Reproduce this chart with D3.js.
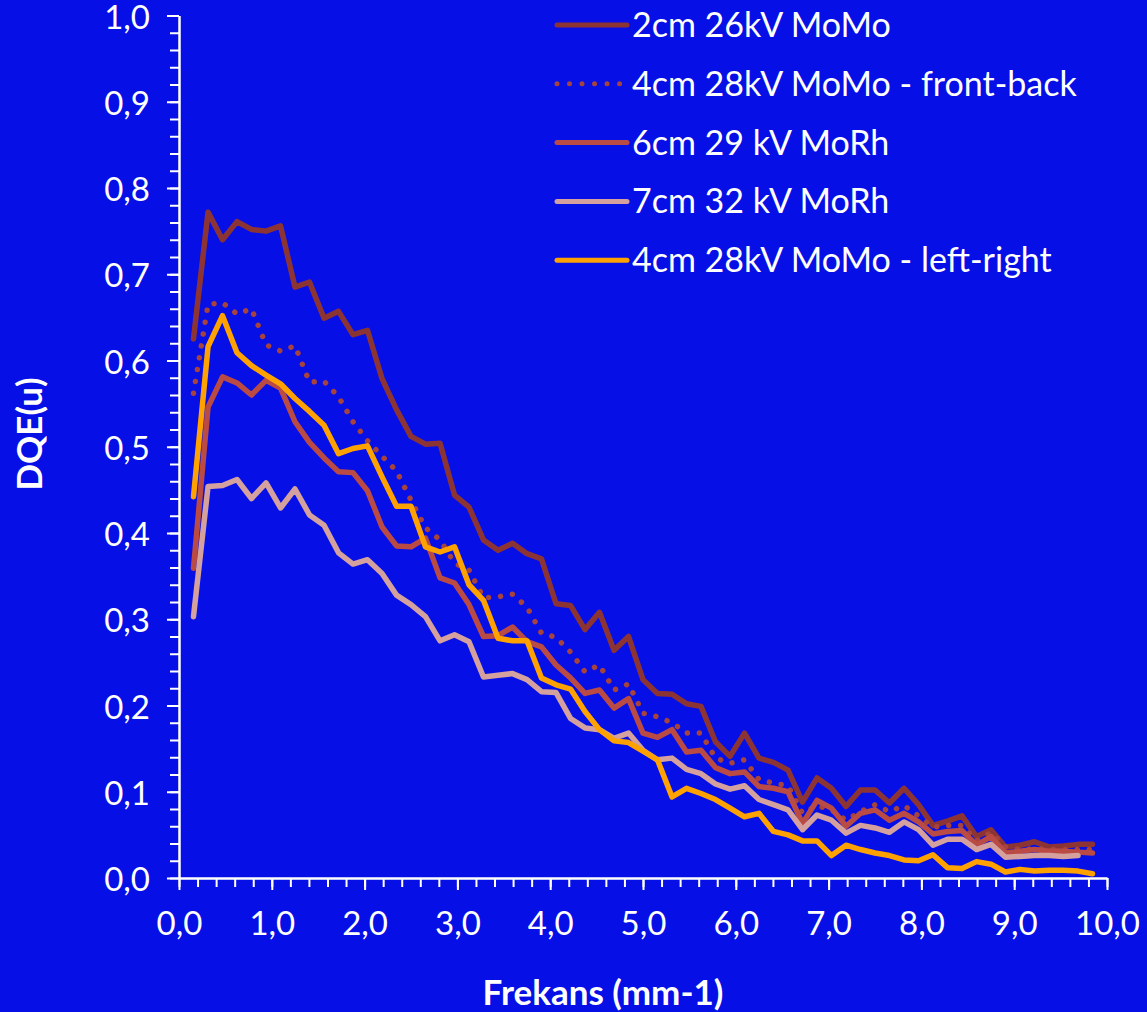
<!DOCTYPE html>
<html>
<head>
<meta charset="utf-8">
<script src="https://cdn.jsdelivr.net/npm/d3@7"></script>
<style>
  html, body { margin: 0; padding: 0; background: #0610e6; }
  svg { display: block; }
  .tick text { font-family: Lato, "Open Sans", sans-serif; fill: #fff; }
  .tick line, .domain { stroke: #fff; }
</style>
</head>
<body>
<div id="wrapper"></div>
<script>
// 1. Data

const freq = [0.156, 0.313, 0.469, 0.625, 0.781, 0.938, 1.094, 1.250, 1.406, 1.563,
  1.719, 1.875, 2.031, 2.188, 2.344, 2.500, 2.656, 2.813, 2.969, 3.125,
  3.281, 3.438, 3.594, 3.750, 3.906, 4.063, 4.219, 4.375, 4.531, 4.688,
  4.844, 5.000, 5.156, 5.313, 5.469, 5.625, 5.781, 5.938, 6.094, 6.250,
  6.406, 6.563, 6.719, 6.875, 7.031, 7.188, 7.344, 7.500, 7.656, 7.813,
  7.969, 8.125, 8.281, 8.438, 8.594, 8.750, 8.906, 9.063, 9.219, 9.375,
  9.531, 9.688, 9.844];

const seriesNames = [
  "2cm 26kV MoMo",
  "4cm 28kV MoMo - front-back",
  "6cm 29 kV MoRh",
  "7cm 32 kV MoRh",
  "4cm 28kV MoMo - left-right",
];

const dqe2cm = [0.625, 0.772, 0.740, 0.761, 0.752, 0.750, 0.756, 0.685, 0.691, 0.649,
  0.657, 0.630, 0.635, 0.579, 0.543, 0.512, 0.503, 0.504, 0.444, 0.430,
  0.392, 0.380, 0.388, 0.376, 0.370, 0.318, 0.316, 0.288, 0.308, 0.264,
  0.280, 0.230, 0.214, 0.213, 0.202, 0.199, 0.158, 0.141, 0.168, 0.139,
  0.134, 0.125, 0.088, 0.116, 0.104, 0.083, 0.102, 0.102, 0.087, 0.104,
  0.085, 0.061, 0.066, 0.072, 0.048, 0.056, 0.036, 0.038, 0.042, 0.036,
  0.037, 0.039, 0.039];

const dqe4cmFB = [0.562, 0.665, 0.667, 0.654, 0.660, 0.618, 0.611, 0.617, 0.575, 0.576,
  0.558, 0.529, 0.507, 0.489, 0.472, 0.438, 0.406, 0.392, 0.365, 0.357,
  0.325, 0.326, 0.329, 0.314, 0.284, 0.279, 0.262, 0.239, 0.247, 0.218,
  0.225, 0.191, 0.187, 0.180, 0.168, 0.168, 0.139, 0.133, 0.137, 0.114,
  0.110, 0.107, 0.075, 0.084, 0.079, 0.067, 0.077, 0.085, 0.077, 0.084,
  0.072, 0.059, 0.061, 0.061, 0.043, 0.053, 0.036, 0.033, 0.034, 0.033,
  0.033, 0.033, 0.033];

const dqe6cm = [0.359, 0.546, 0.581, 0.574, 0.560, 0.577, 0.568, 0.529, 0.505, 0.487,
  0.471, 0.470, 0.449, 0.407, 0.385, 0.384, 0.394, 0.348, 0.342, 0.317,
  0.280, 0.281, 0.291, 0.274, 0.268, 0.247, 0.232, 0.214, 0.218, 0.197,
  0.208, 0.168, 0.163, 0.172, 0.146, 0.148, 0.128, 0.121, 0.123, 0.106,
  0.104, 0.100, 0.063, 0.090, 0.081, 0.060, 0.075, 0.079, 0.067, 0.075,
  0.065, 0.051, 0.054, 0.055, 0.038, 0.048, 0.029, 0.031, 0.033, 0.031,
  0.031, 0.030, 0.029];

const dqe7cm = [0.303, 0.454, 0.455, 0.462, 0.440, 0.458, 0.429, 0.451, 0.421, 0.409,
  0.377, 0.364, 0.369, 0.353, 0.328, 0.317, 0.303, 0.275, 0.282, 0.274,
  0.233, 0.235, 0.237, 0.230, 0.216, 0.215, 0.185, 0.174, 0.172, 0.162,
  0.168, 0.148, 0.137, 0.139, 0.126, 0.121, 0.109, 0.103, 0.107, 0.091,
  0.085, 0.079, 0.056, 0.073, 0.067, 0.052, 0.061, 0.058, 0.053, 0.065,
  0.056, 0.038, 0.045, 0.045, 0.033, 0.039, 0.024, 0.025, 0.026, 0.026,
  0.025, 0.026];

const dqe4cmLR = [0.442, 0.616, 0.652, 0.609, 0.594, 0.583, 0.573, 0.556, 0.541, 0.525,
  0.492, 0.498, 0.501, 0.465, 0.431, 0.431, 0.384, 0.378, 0.384, 0.340,
  0.322, 0.278, 0.275, 0.275, 0.232, 0.224, 0.219, 0.193, 0.172, 0.159,
  0.157, 0.147, 0.137, 0.094, 0.104, 0.098, 0.091, 0.081, 0.071, 0.075,
  0.054, 0.050, 0.043, 0.043, 0.026, 0.038, 0.033, 0.029, 0.026, 0.021,
  0.020, 0.027, 0.012, 0.011, 0.019, 0.016, 0.007, 0.010, 0.008, 0.009,
  0.009, 0.008, 0.005];

const seriesValues = [dqe2cm, dqe4cmFB, dqe6cm, dqe7cm, dqe4cmLR];
const seriesColors = ["#8c3434", "#a6433d", "#b94a44", "#d4a19e", "#ffa200"];
const seriesDashed = [false, true, false, false, false];

const xTicks = [0, 1, 2, 3, 4, 5, 6, 7, 8, 9, 10];
const yTicks = [0, 0.1, 0.2, 0.3, 0.4, 0.5, 0.6, 0.7, 0.8, 0.9, 1.0];

const xAccessor = d => d.x;
const yAccessor = d => d.y;

// 2. Dimensions

let dimensions = {
  width: 1147,
  height: 1012,
  margin: {
    top: 15.5,
    right: 40,
    bottom: 134,
    left: 179,
  },
}
dimensions.boundedWidth = dimensions.width
  - dimensions.margin.left
  - dimensions.margin.right
dimensions.boundedHeight = dimensions.height
  - dimensions.margin.top
  - dimensions.margin.bottom

// 3. Canvas

const wrapper = d3.select("#wrapper")
  .append("svg")
    .attr("width", dimensions.width)
    .attr("height", dimensions.height)

wrapper.append("rect")
    .attr("width", dimensions.width)
    .attr("height", dimensions.height)
    .attr("fill", "#0610e6")

const bounds = wrapper.append("g")
    .attr("transform", `translate(${dimensions.margin.left}, ${dimensions.margin.top})`)

// 4. Scales

const xScale = d3.scaleLinear()
  .domain([0, 10])
  .range([0, dimensions.boundedWidth])

const yScale = d3.scaleLinear()
  .domain([0, 1])
  .range([dimensions.boundedHeight, 0])

const commaFormat = d => d3.format(".1f")(d).replace(".", ",")

// 5. Peripherals (axes under the lines)

const xMinor = bounds.append("g")
    .attr("transform", `translate(0, ${dimensions.boundedHeight})`)
    .call(d3.axisBottom(xScale)
      .tickValues(d3.range(0, 10.01, 0.2))
      .tickSize(9)
      .tickSizeOuter(0)
      .tickFormat(""))

const xAxis = bounds.append("g")
    .attr("transform", `translate(0, ${dimensions.boundedHeight})`)
    .call(d3.axisBottom(xScale)
      .tickValues(xTicks)
      .tickSize(12)
      .tickSizeOuter(0)
      .tickPadding(22)
      .tickFormat(commaFormat))

const yMinor = bounds.append("g")
    .call(d3.axisLeft(yScale)
      .tickValues(d3.range(0, 1.001, 0.02))
      .tickSize(9)
      .tickSizeOuter(0)
      .tickFormat(""))

const yAxis = bounds.append("g")
    .call(d3.axisLeft(yScale)
      .tickValues(yTicks)
      .tickSize(12)
      .tickSizeOuter(0)
      .tickPadding(17)
      .tickFormat(commaFormat))

yAxis.selectAll(".tick text").attr("dy", "0.38em")

bounds.selectAll(".domain, .tick line").attr("stroke-width", 2)
bounds.selectAll(".tick text").style("font-size", "33px")

wrapper.append("text")
    .attr("x", 603)
    .attr("y", 1005)
    .attr("text-anchor", "middle")
    .style("font-family", "Lato, 'Open Sans', sans-serif")
    .style("font-weight", "bold")
    .style("font-size", "35px")
    .attr("fill", "#fff")
    .text("Frekans (mm-1)")

wrapper.append("text")
    .attr("transform", `translate(42, 434) rotate(-90)`)
    .attr("text-anchor", "middle")
    .style("font-family", "Lato, 'Open Sans', sans-serif")
    .style("font-weight", "bold")
    .style("font-size", "35px")
    .attr("fill", "#fff")
    .text("DQE(u)")

// 6. Lines

const lineGenerator = d3.line()
  .x(d => xScale(xAccessor(d)))
  .y(d => yScale(yAccessor(d)))

const linesGroup = bounds.append("g")

seriesValues.forEach((values, i) => {
  const points = values.map((v, j) => ({ x: freq[j], y: v }))
  linesGroup.append("path")
      .datum(points)
      .attr("fill", "none")
      .attr("stroke", seriesColors[i])
      .attr("stroke-width", 5.5)
      .attr("stroke-linejoin", "round")
      .attr("stroke-linecap", "round")
      .attr("stroke-dasharray", seriesDashed[i] ? "0.01 12" : null)
      .attr("d", lineGenerator)
})

// 7. Legend

const legend = wrapper.append("g")
    .attr("transform", "translate(557, 25)")

const legendItems = legend.selectAll("g")
  .data(seriesNames)
  .join("g")
    .attr("transform", (d, i) => `translate(0, ${i * 58.8})`)

legendItems.append("line")
    .attr("x1", 0)
    .attr("x2", 70)
    .attr("stroke", (d, i) => seriesColors[i])
    .attr("stroke-width", 5)
    .attr("stroke-linecap", "round")
    .attr("stroke-dasharray", (d, i) => seriesDashed[i] ? "0.01 12.5" : null)

legendItems.append("text")
    .attr("x", 75)
    .attr("dy", "0.35em")
    .style("font-family", "Lato, 'Open Sans', sans-serif")
    .style("font-size", "34px")
    .attr("fill", "#fff")
    .text(d => d)
</script>
</body>
</html>
